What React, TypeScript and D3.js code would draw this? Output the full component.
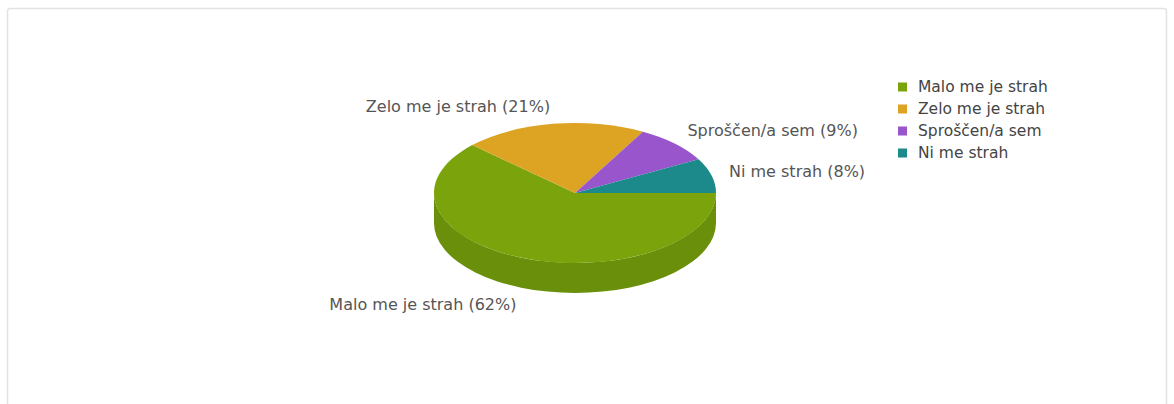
import React from "react";
import * as d3 from "d3";

const categories = ["Malo me je strah", "Zelo me je strah", "Sproščen/a sem", "Ni me strah"];
const values = [62, 21, 9, 8];
const colors = ["#7AA30C", "#DDA322", "#9955CC", "#1C8A8A"];
const sideColors = ["#6A8F0A", "#B98718", "#7E42AB", "#146E6E"];

const W = 1174;
const H = 404;
const cx = 575;
const cy = 193;
const rx = 141;
const ry = 70;
const depth = 30;
const FONT = "'DejaVu Sans', Verdana, sans-serif";

function pt(a: number, dy = 0): [number, number] {
  return [cx + rx * Math.sin(a), cy - ry * Math.cos(a) + dy];
}

export default function App() {
  const pie = d3
    .pie<number>()
    .sort(null)
    .startAngle(Math.PI / 2)
    .endAngle(Math.PI / 2 + 2 * Math.PI);
  const arcs = pie(values);

  const topPath = (a0: number, a1: number) => {
    const p0 = pt(a0);
    const p1 = pt(a1);
    const large = a1 - a0 > Math.PI ? 1 : 0;
    return `M${cx},${cy}L${p0[0]},${p0[1]}A${rx},${ry} 0 ${large} 1 ${p1[0]},${p1[1]}Z`;
  };

  const sidePath = (a0: number, a1: number) => {
    const s = Math.max(a0, Math.PI / 2);
    const e = Math.min(a1, (3 * Math.PI) / 2);
    if (e <= s) return null;
    const p0 = pt(s);
    const p1 = pt(e);
    const q1 = pt(e, depth);
    const q0 = pt(s, depth);
    return `M${p0[0]},${p0[1]}A${rx},${ry} 0 0 1 ${p1[0]},${p1[1]}L${q1[0]},${q1[1]}A${rx},${ry} 0 0 0 ${q0[0]},${q0[1]}Z`;
  };

  const labelPos = (a: number) => {
    const off = 18;
    const sx = Math.sin(a);
    const cyv = -Math.cos(a);
    const x = cx + (rx + off) * sx;
    const y = cy + (ry + off) * cyv + (cyv > 0 ? depth : 0);
    return { x, y, anchor: sx >= 0 ? "start" : "end" };
  };

  const total = d3.sum(values);

  return (
    <svg
      width={W}
      height={H}
      style={{ position: "absolute", left: 0, top: 0, background: "#fff" }}
    >
      <rect x={7.5} y={8.5} width={1159} height={420} rx={3} fill="#fff" stroke="#E2E2E2" strokeWidth={1.5} />
      <g>
        {arcs.map((d, i) => {
          const p = sidePath(d.startAngle, d.endAngle);
          return p ? <path key={"s" + i} d={p} fill={sideColors[i]} /> : null;
        })}
        {arcs.map((d, i) => (
          <path key={"t" + i} d={topPath(d.startAngle, d.endAngle)} fill={colors[i]} />
        ))}
      </g>
      <g fontFamily={FONT} fontSize={16} fill="#555">
        {arcs.map((d, i) => {
          const m = (d.startAngle + d.endAngle) / 2;
          const lp = labelPos(m);
          return (
            <text key={"l" + i} x={lp.x} y={lp.y} dy="0.35em" textAnchor={lp.anchor}>
              {`${categories[i]} (${Math.round((values[i] / total) * 100)}%)`}
            </text>
          );
        })}
      </g>
      <g fontFamily={FONT} fontSize={15.5} fill="#444">
        {categories.map((c, i) => (
          <g key={"g" + i} transform={`translate(898,${87 + i * 22})`}>
            <rect x={0} y={-4.5} width={9} height={9} fill={colors[i]} />
            <text x={20} y={0} dy="0.35em">
              {c}
            </text>
          </g>
        ))}
      </g>
    </svg>
  );
}
